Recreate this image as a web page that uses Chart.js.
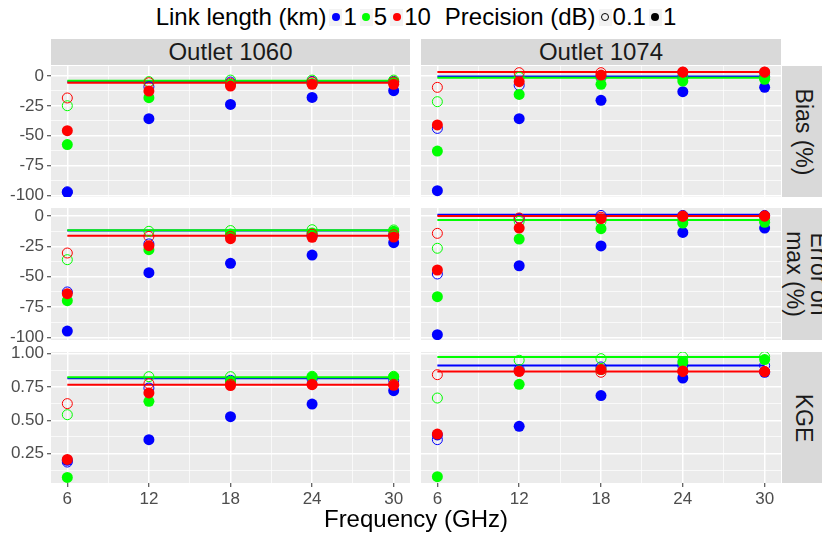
<!DOCTYPE html>
<html>
<head>
<meta charset="utf-8">
<script src="https://cdn.jsdelivr.net/npm/chart.js@4"></script>
<style>
    body { margin: 0; background: #fff; font-family: "Liberation Sans", Arial, sans-serif; }
    #page { position: relative; width: 822px; height: 533px; overflow: hidden; }
    .panel { position: absolute; }
    .strip-top { position: absolute; top: 39px; height: 26px; background: #d9d9d9; color: #1a1a1a;
        font-size: 24px; line-height: 26px; text-align: center; }
    .strip-right { position: absolute; left: 782px; width: 44px; background: #d9d9d9; color: #1a1a1a; }
    .strip-right span { position: absolute; left: 50%; top: 50%; font-size: 23px; line-height: 24px;
        white-space: pre; text-align: center; transform: translate(-50%, -50%) rotate(90deg); }
    #xtitle { position: absolute; left: 51px; width: 730px; top: 505px; text-align: center; font-size: 24px; color: #000; }
    #legend { position: absolute; left: 0; width: 832px; top: 4px; height: 26px; display: flex;
        justify-content: center; align-items: center; font-size: 24px; color: #000; }
    #legend .key { width: 13px; height: 17px; background: #f2f2f2; position: relative; margin: 0 1px 0 3px; }
    #legend .key i { position: absolute; left: 50%; top: 50%; width: 8px; height: 8px; border-radius: 50%;
        transform: translate(-50%, -50%); box-sizing: border-box; }
    #legend .gap { width: 14px; }
</style>
</head>
<body>
<div id="page">
    <div id="legend"></div>

    <div class="strip-top" style="left:51px;width:359px">Outlet 1060</div>
    <div class="strip-top" style="left:421px;width:360px">Outlet 1074</div>

    <div class="strip-right" style="top:66px;height:131px"><span>Bias (%)</span></div>
    <div class="strip-right" style="top:208px;height:132px"><span style="margin-left:3px">Error on
max (%)</span></div>
    <div class="strip-right" style="top:352px;height:131px"><span>KGE</span></div>

    <!-- canvases reach 10px past each panel so edge tick labels are not cut -->
    <div class="panel" style="left:0;top:56px"><canvas id="bias1060" width="410" height="151"></canvas></div>
    <div class="panel" style="left:421px;top:56px"><canvas id="bias1074" width="360" height="151"></canvas></div>
    <div class="panel" style="left:0;top:198px"><canvas id="err1060" width="410" height="152"></canvas></div>
    <div class="panel" style="left:421px;top:198px"><canvas id="err1074" width="360" height="152"></canvas></div>
    <div class="panel" style="left:0;top:342px"><canvas id="kge1060" width="410" height="169"></canvas></div>
    <div class="panel" style="left:421px;top:342px"><canvas id="kge1074" width="360" height="169"></canvas></div>

    <div id="xtitle">Frequency (GHz)</div>
</div>

<script>
// Categories
const freqs = [6, 12, 18, 24, 30];
const linkLengths = ['1', '5', '10'];
const precisions = ['0.1', '1'];
const linkColors = ['#0000FF', '#00FF00', '#FF0000'];

// Tick labels
const freqTicks = [6, 12, 18, 24, 30];
const freqMinor = [9, 15, 21, 27];
const pctTicks = [0, -25, -50, -75, -100];
const pctMinor = [-12.5, -37.5, -62.5, -87.5];
const kgeTicks = [0.25, 0.50, 0.75, 1.00];
const kgeMinor = [0.125, 0.375, 0.625, 0.875];

// Values: one row per link length (1, 5, 10 km), one column per frequency
// Bias (%), Outlet 1060
const bias1060_p01 = [[-97, -9, -5, -4.5, -4.5], [-24.9, -4.7, -3.4, -3.4, -3.4], [-18.4, -5.6, -6, -5, -5]];
const bias1060_p1 = [[-97.5, -35.8, -23.8, -17.9, -12.3], [-57.5, -18.2, -7, -6.2, -5], [-45.8, -12.6, -8.4, -7, -7]];
const bias1060_ref = [-4.7, -3.9, -5.6];

// Bias (%), Outlet 1074
const bias1074_p01 = [[-43.9, -7.8, -0.5, -0.5, -0.5], [-21.5, -1, -1.5, -1.5, -1], [-9.5, 2.8, 2.8, 3.2, 3.2]];
const bias1074_p1 = [[-96.1, -35.8, -20.4, -13.1, -9.5], [-62.9, -15.4, -7, -4.2, -2.8], [-41, -4.7, 0.8, 3.4, 3.4]];
const bias1074_ref = [-0.3, -1.4, 3.4];

// Error on max (%), Outlet 1060
const err1060_p01 = [[-62.6, -23, -16, -16, -16], [-36, -12.6, -12, -11.3, -11.5], [-30.5, -16.8, -16.8, -15, -15.5]];
const err1060_p1 = [[-94.8, -46.7, -39, -32.2, -22], [-69.8, -27.8, -14.8, -14, -12.6], [-64, -24.5, -18.7, -17.6, -17.3]];
const err1060_ref = [-11.9, -11.8, -16.2];

// Error on max (%), Outlet 1074
const err1074_p01 = [[-47.8, -2, 0.5, 0.5, 0.5], [-26.6, -4.4, -4.4, -3, -3], [-14.3, -1.6, -1, 0, 0]];
const err1074_p1 = [[-97.8, -41, -24.7, -13.5, -9.9], [-66.5, -19, -10.4, -5.8, -5.2], [-44.5, -9.9, -2.2, -0.3, 0]];
const err1074_ref = [1.1, -3.3, 0];

// KGE, Outlet 1060
const kge1060_p01 = [[0.187, 0.742, 0.80, 0.81, 0.80], [0.542, 0.827, 0.827, 0.83, 0.83], [0.625, 0.775, 0.77, 0.77, 0.77]];
const kge1060_p1 = [[0.20, 0.355, 0.527, 0.622, 0.722], [0.072, 0.642, 0.792, 0.825, 0.825], [0.207, 0.705, 0.76, 0.767, 0.762]];
const kge1060_ref = [0.815, 0.822, 0.767];

// KGE, Outlet 1074
const kge1074_p01 = [[0.355, 0.88, 0.90, 0.91, 0.91], [0.667, 0.95, 0.962, 0.975, 0.977], [0.842, 0.867, 0.86, 0.865, 0.865]];
const kge1074_p1 = [[0.39, 0.455, 0.685, 0.817, 0.86], [0.077, 0.77, 0.88, 0.937, 0.955], [0.397, 0.867, 0.88, 0.87, 0.865]];
const kge1074_ref = [0.91, 0.975, 0.865];

// Grey panel background
const panelBackground = {
    id: 'panelBackground',
    beforeDraw(chart) {
        const { ctx, chartArea: a } = chart;
        ctx.save();
        ctx.fillStyle = '#ebebeb';
        ctx.fillRect(a.left, a.top, a.right - a.left, a.bottom - a.top);
        ctx.restore();
    }
};

function buildLegend() {
    const legend = document.getElementById('legend');
    let html = '<span>Link length (km)</span>';
    linkLengths.forEach((l, i) => {
        html += `<span class="key"><i style="background:${linkColors[i]}"></i></span><span>${l}</span>`;
    });
    html += '<span class="gap"></span><span>Precision (dB)</span>';
    html += '<span class="key"><i style="border:1px solid #000"></i></span><span>' + precisions[0] + '</span>';
    html += '<span class="key"><i style="background:#000"></i></span><span>' + precisions[1] + '</span>';
    legend.innerHTML = html;
}

function axisTicks(majors, minors) {
    return function (scale) {
        scale.ticks = majors.concat(minors).sort((a, b) => a - b).map(v => ({ value: v }));
    };
}

// fixed axis size, no extra label padding, so every panel lines up
function fixAxis(size, horizontal) {
    return function (s) {
        if (horizontal) s.height = size; else s.width = size;
        s.paddingTop = 0;
        s.paddingBottom = 0;
        s.paddingLeft = 0;
        s.paddingRight = 0;
    };
}

function makePanel(id, openVals, filledVals, refVals, cfg) {
    const datasets = [];
    // reference lines, drawn below the points
    linkLengths.forEach((l, i) => {
        datasets.push({
            label: 'ref ' + l,
            data: [{ x: freqs[0], y: refVals[i] }, { x: freqs[freqs.length - 1], y: refVals[i] }],
            showLine: true,
            borderColor: linkColors[i],
            borderWidth: 2,
            pointRadius: 0,
            order: 20 - i
        });
    });
    // points
    linkLengths.forEach((l, i) => {
        datasets.push({
            label: l + ' km, 0.1 dB',
            data: freqs.map((f, j) => ({ x: f, y: openVals[i][j] })),
            pointRadius: 5,
            pointBorderWidth: 1,
            pointBackgroundColor: 'rgba(0,0,0,0)',
            pointBorderColor: linkColors[i],
            order: 10 - 2 * i
        });
        datasets.push({
            label: l + ' km, 1 dB',
            data: freqs.map((f, j) => ({ x: f, y: filledVals[i][j] })),
            pointRadius: 5.5,
            pointBorderWidth: 0,
            pointBackgroundColor: linkColors[i],
            pointBorderColor: linkColors[i],
            order: 9 - 2 * i
        });
    });

    const isMajorX = v => freqTicks.includes(v);
    const isMajorY = v => cfg.yTicks.includes(v);

    new Chart(document.getElementById(id).getContext('2d'), {
        type: 'scatter',
        data: { datasets: datasets },
        options: {
            responsive: false,
            animation: false,
            devicePixelRatio: 1,
            layout: { padding: { top: 10, bottom: cfg.showX ? 0 : 10, left: 0, right: 0 }, autoPadding: false },
            plugins: { legend: { display: false }, tooltip: { enabled: false } },
            scales: {
                x: {
                    type: 'linear',
                    min: 4.8,
                    max: 31.2,
                    afterBuildTicks: axisTicks(freqTicks, freqMinor),
                    afterFit: fixAxis(cfg.showX ? 28 : 0, true),
                    border: { display: false },
                    grid: {
                        color: '#ffffff',
                        lineWidth: c => isMajorX(c.tick.value) ? 1.5 : 0.7,
                        drawTicks: cfg.showX,
                        tickLength: 4,
                        tickWidth: 1,
                        tickColor: c => isMajorX(c.tick.value) ? '#333333' : 'rgba(0,0,0,0)'
                    },
                    ticks: {
                        display: cfg.showX,
                        autoSkip: false,
                        maxRotation: 0,
                        padding: 2,
                        color: '#4d4d4d',
                        font: { size: 17, family: '"Liberation Sans", Arial, sans-serif' },
                        callback: v => isMajorX(v) ? String(v) : ''
                    }
                },
                y: {
                    type: 'linear',
                    min: cfg.yMin,
                    max: cfg.yMax,
                    afterBuildTicks: axisTicks(cfg.yTicks, cfg.yMinor),
                    afterFit: fixAxis(cfg.showY ? 51 : 0, false),
                    border: { display: false },
                    grid: {
                        color: '#ffffff',
                        lineWidth: c => isMajorY(c.tick.value) ? 1.5 : 0.7,
                        drawTicks: cfg.showY,
                        tickLength: 4,
                        tickWidth: 1,
                        tickColor: c => isMajorY(c.tick.value) ? '#333333' : 'rgba(0,0,0,0)'
                    },
                    ticks: {
                        display: cfg.showY,
                        autoSkip: false,
                        padding: 3,
                        color: '#4d4d4d',
                        font: { size: 17, family: '"Liberation Sans", Arial, sans-serif' },
                        callback: v => isMajorY(v) ? cfg.fmt(v) : ''
                    }
                }
            }
        },
        plugins: [panelBackground]
    });
}

const pctFmt = v => String(v);
const kgeFmt = v => v.toFixed(2);

buildLegend();
makePanel('bias1060', bias1060_p01, bias1060_p1, bias1060_ref,
    { showX: false, showY: true, yMin: -101.4, yMax: 8.4, yTicks: pctTicks, yMinor: pctMinor, fmt: pctFmt });
makePanel('bias1074', bias1074_p01, bias1074_p1, bias1074_ref,
    { showX: false, showY: false, yMin: -101.4, yMax: 8.4, yTicks: pctTicks, yMinor: pctMinor, fmt: pctFmt });
makePanel('err1060', err1060_p01, err1060_p1, err1060_ref,
    { showX: false, showY: true, yMin: -102.2, yMax: 6.6, yTicks: pctTicks, yMinor: pctMinor, fmt: pctFmt });
makePanel('err1074', err1074_p01, err1074_p1, err1074_ref,
    { showX: false, showY: false, yMin: -102.2, yMax: 6.6, yTicks: pctTicks, yMinor: pctMinor, fmt: pctFmt });
makePanel('kge1060', kge1060_p01, kge1060_p1, kge1060_ref,
    { showX: true, showY: true, yMin: 0.03, yMax: 1.012, yTicks: kgeTicks, yMinor: kgeMinor, fmt: kgeFmt });
makePanel('kge1074', kge1074_p01, kge1074_p1, kge1074_ref,
    { showX: true, showY: false, yMin: 0.03, yMax: 1.012, yTicks: kgeTicks, yMinor: kgeMinor, fmt: kgeFmt });
</script>
</body>
</html>
